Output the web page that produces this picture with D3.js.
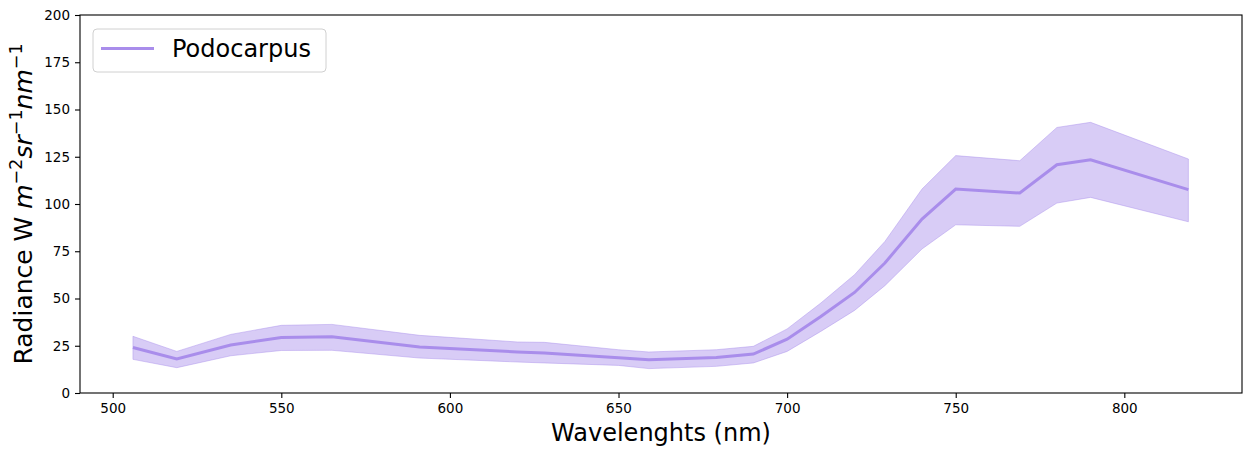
<!DOCTYPE html>
<html>
<head>
<meta charset="utf-8">
<script src="https://cdn.jsdelivr.net/npm/d3@7"></script>
<style>
body { margin: 0; background: #fff; }
svg { font-family: "DejaVu Sans", sans-serif; }
.axis path, .axis line { stroke: #000; stroke-width: 1.1px; }
</style>
</head>
<body>
<script>

var wavelengths = [506, 519, 535, 550, 565, 591, 620, 628, 650, 659, 679, 690, 700, 710, 720, 729, 740, 750, 769, 780, 790, 819];
var meanRad     = [24.1, 18.0, 25.4, 29.4, 29.8, 24.3, 21.7, 21.2, 18.6, 17.6, 18.8, 20.6, 28.5, 40.5, 53.2, 68.8, 92.0, 107.9, 105.8, 120.8, 123.4, 107.6];
var upperRad    = [30.0, 22.0, 31.0, 35.8, 36.3, 30.5, 27.0, 26.8, 22.9, 21.7, 22.9, 24.7, 33.9, 47.6, 62.6, 80.2, 107.9, 125.6, 122.9, 140.5, 143.2, 123.8];
var lowerRad    = [17.8, 13.4, 19.7, 22.5, 22.6, 18.5, 16.4, 15.9, 14.6, 12.9, 14.1, 15.9, 22.0, 32.6, 43.7, 56.8, 76.2, 89.0, 88.2, 100.5, 103.5, 90.6];
var xTicks = [500, 550, 600, 650, 700, 750, 800];
var yTicks = [0, 25, 50, 75, 100, 125, 150, 175, 200];
var seriesName = "Podocarpus";
var color = "#a98deb";

var W = 1251, H = 456,
    pLeft = 80, pRight = 1242, pTop = 15, pBottom = 393;

var svg = d3.select("body").append("svg")
    .attr("width", W)
    .attr("height", H);

var x = d3.scaleLinear().domain([490.3, 834.9]).range([pLeft, pRight]);
var y = d3.scaleLinear().domain([0, 200]).range([pBottom, pTop]);

var data = wavelengths.map(function(w, i) {
  return {w: w, m: meanRad[i], hi: upperRad[i], lo: lowerRad[i]};
});

// band
svg.append("path")
    .datum(data)
    .attr("d", d3.area()
      .x(function(d) { return x(d.w); })
      .y0(function(d) { return y(d.lo); })
      .y1(function(d) { return y(d.hi); }))
    .attr("fill", color)
    .attr("fill-opacity", 0.45)
    .attr("stroke", color)
    .attr("stroke-opacity", 0.45)
    .attr("stroke-width", 1);

// mean line
svg.append("path")
    .datum(data)
    .attr("d", d3.line()
      .x(function(d) { return x(d.w); })
      .y(function(d) { return y(d.m); }))
    .attr("fill", "none")
    .attr("stroke", color)
    .attr("stroke-width", 3);

// axes
svg.append("g")
    .attr("class", "axis")
    .attr("transform", "translate(0," + pBottom + ")")
    .call(d3.axisBottom(x).tickValues(xTicks).tickSize(5).tickPadding(5).tickSizeOuter(0));

svg.append("g")
    .attr("class", "axis")
    .attr("transform", "translate(" + pLeft + ",0)")
    .call(d3.axisLeft(y).tickValues(yTicks).tickSize(5).tickPadding(5).tickSizeOuter(0));

svg.selectAll(".axis")
    .attr("font-family", "DejaVu Sans, sans-serif")
    .attr("font-size", 13.5);
svg.selectAll(".axis text").attr("fill", "#000");
svg.selectAll(".axis .domain").remove();

svg.append("rect")
    .attr("x", pLeft)
    .attr("y", pTop)
    .attr("width", pRight - pLeft)
    .attr("height", pBottom - pTop)
    .attr("fill", "none")
    .attr("stroke", "#000")
    .attr("stroke-width", 1.1);

// x label
svg.append("text")
    .attr("x", (pLeft + pRight) / 2)
    .attr("y", 441)
    .attr("text-anchor", "middle")
    .style("font-size", "24px")
    .text("Wavelenghts (nm)");

// y label with superscripts (mathtext style)
var yl = svg.append("text")
    .attr("transform", "translate(32,204) rotate(-90)")
    .attr("text-anchor", "middle")
    .style("font-size", "25px");
yl.append("tspan").text("Radiance W ");
yl.append("tspan").style("font-style", "italic").text("m");
yl.append("tspan").attr("dy", -10).style("font-size", "17.5px").text("−2");
yl.append("tspan").attr("dy", 10).style("font-style", "italic").text("sr");
yl.append("tspan").attr("dy", -10).style("font-size", "17.5px").text("−1");
yl.append("tspan").attr("dy", 10).style("font-style", "italic").text("nm");
yl.append("tspan").attr("dy", -10).style("font-size", "17.5px").text("−1");

// legend
var lg = svg.append("g");
lg.append("rect")
    .attr("x", 93)
    .attr("y", 29)
    .attr("width", 233)
    .attr("height", 43)
    .attr("rx", 4)
    .attr("fill", "#fff")
    .attr("fill-opacity", 0.8)
    .attr("stroke", "#d0d0d0")
    .attr("stroke-width", 1);
lg.append("line")
    .attr("x1", 101)
    .attr("x2", 154)
    .attr("y1", 48.5)
    .attr("y2", 48.5)
    .attr("stroke", color)
    .attr("stroke-width", 3);
lg.append("text")
    .attr("x", 172)
    .attr("y", 57)
    .style("font-size", "24px")
    .text(seriesName);

</script>
</body>
</html>
